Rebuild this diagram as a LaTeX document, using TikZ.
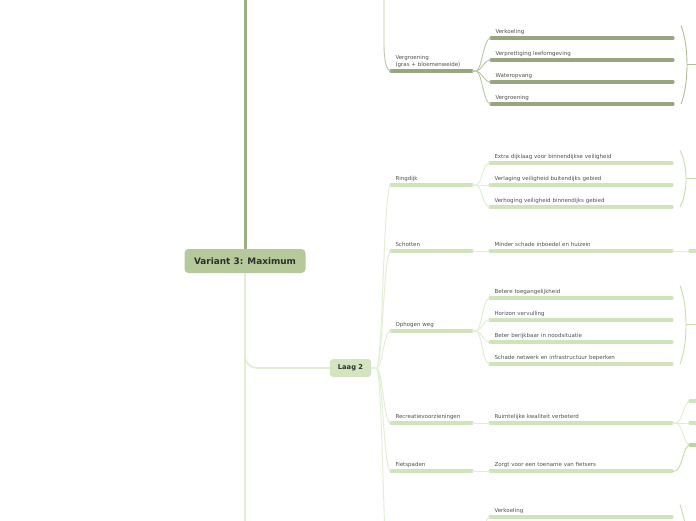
\documentclass[tikz,border=0pt]{standalone}
\usepackage{fontspec}
\setmainfont{DejaVu Sans}
\usepackage{xcolor}
\usepackage{tikz}
\usetikzlibrary{positioning, calc}
\definecolor{mapink}{HTML}{2F2F2F}
\definecolor{mapgrey}{HTML}{505050}
\definecolor{mapsage}{HTML}{B5C99A}
\definecolor{mapmint}{HTML}{D4E4C0}
\definecolor{mapstem}{HTML}{9DAF80}
\definecolor{mapolive}{HTML}{98A67F}
\definecolor{mapolivesoft}{HTML}{BBC5A8}
\definecolor{mapolivebrace}{HTML}{AFBD94}
\definecolor{mapleaf}{HTML}{D0E3BA}
\definecolor{mapleafdeep}{HTML}{BCD4A0}
\definecolor{mapleafsoft}{HTML}{E3EED7}
\definecolor{mapleafbrace}{HTML}{C8DCAF}
\tikzset{
  rootbox/.style={fill=mapsage, rounded corners=4pt, text=mapink, inner sep=0pt,
                  font=\fontsize{8.9}{10}\selectfont\bfseries,
                  minimum width=121pt, minimum height=24pt},
  laagbox/.style={rootbox, fill=mapmint, rounded corners=3pt,
                  font=\fontsize{6.7}{8}\selectfont\bfseries,
                  minimum width=41pt, minimum height=18pt},
  uline/.style={draw=#1, line width=3.2pt, line cap=round},
  topic/.style={anchor=south west, align=left, text=mapgrey, outer sep=0pt,
                font=\fontsize{5.5}{6.6}\selectfont, inner xsep=4.5pt, inner ysep=3.5pt,
                text height=4.2pt, text depth=1.3pt},
  topictwo/.style={topic, text width=72pt,
                   append after command={(\tikzlastnode.south west) edge[uline=#1] (\tikzlastnode.south east)}},
  topictwo/.default=mapleaf,
  topicthree/.style={topic, text width=173pt,
                     append after command={(\tikzlastnode.south west) edge[uline=#1] (\tikzlastnode.south east)}},
  topicthree/.default=mapleaf,
  stem/.style={draw=mapstem, line width=3pt},
  stemleaf/.style={draw=mapleafsoft, line width=1.8pt},
  twig/.style={draw=mapleafsoft, line width=1pt},
  twigdeep/.style={draw=mapleafbrace, line width=1pt},
  twigolive/.style={draw=mapolivesoft, line width=0.9pt},
  brace/.style={draw=mapleafbrace, line width=0.9pt},
  braceolive/.style={draw=mapolivebrace, line width=0.9pt},
}
\begin{document}
\begin{tikzpicture}[x=1pt, y=-1pt, node distance=9.5pt]
  \useasboundingbox (0,0) rectangle (696,520);
  \clip (0,0) rectangle (696,520);
  % main nodes
  \node[rootbox] (variant) at (245,261) {Variant 3: Maximum};
  \node[laagbox] (laag) at (350.5,368) {Laag 2};
  % ends off the page
  \coordinate (rootup) at (245,-10);
  \coordinate (rootdown) at (245,540);
  \coordinate (upperfork) at (384,-10);
  \coordinate (laagnext) at (391,600);
  \coordinate (lowerparent) at (472,560);
  \coordinate (lowerbrace) at (690,570);
  \coordinate (schotnext) at (690,251);
  \coordinate (nextA) at (690,401);
  \coordinate (nextB) at (690,423);
  \coordinate (nextC) at (690,445);
  % topics of laag 2
  \node[topictwo=mapolive, text depth=] (vergroening) at (391,71) {Vergroening\\(gras + bloemenweide)};
  \node[topictwo] (ringdijk) at (391,185) {Ringdijk};
  \node[topictwo] (schotten) at (391,251) {Schotten};
  \node[topictwo] (ophogen) at (391,331) {Ophogen weg};
  \node[topictwo] (recreatie) at (391,423) {Recreatievoorzieningen};
  \node[topictwo] (fietspaden) at (391,471) {Fietspaden};
  % effects
  \node[topicthree=mapolive] (koeling) at (491,38) {Verkoeling};
  \node[topicthree=mapolive, below=of koeling] (prettig) {Verprettiging leefomgeving};
  \node[topicthree=mapolive, below=of prettig] (water) {Wateropvang};
  \node[topicthree=mapolive, below=of water] (groen) {Vergroening};
  \node[topicthree] (extra) at (490,163) {Extra dijklaag voor binnendijkse veiligheid};
  \node[topicthree, below=of extra] (verlaging) {Verlaging veiligheid buitendijks gebied};
  \node[topicthree, below=of verlaging] (verhoging) {Verhoging veiligheid binnendijks gebied};
  \node[topicthree] (minder) at (490,251) {Minder schade inboedel en huizein};
  \node[topicthree] (toegang) at (490,298) {Betere toegangelijkheid};
  \node[topicthree, below=of toegang] (horizon) {Horizon vervulling};
  \node[topicthree, below=of horizon] (nood) {Beter berijkbaar in noodsituatie};
  \node[topicthree, below=of nood] (netwerk) {Schade netwerk en infrastructuur beperken};
  \node[topicthree] (ruimte) at (490,423) {Ruimtelijke kwaliteit verbeterd};
  \node[topicthree] (toename) at (490,471) {Zorgt voor een toename van fietsers};
  \node[topicthree] (koelinglow) at (490,517) {Verkoeling};
  % stems
  \draw[stem] (variant.north) -- (rootup);
  \draw[stemleaf] (variant.south) -- (rootdown);
  \draw[stemleaf, rounded corners=12pt] (variant.south) |- (laag.west);
  % laag 2 to topics
  \draw[twigolive] (upperfork) -- ++(0,55) .. controls +(0,13) and +(-5,0) .. (vergroening.south west);
  \draw[twig] (laag.east) -- ++(5,0) .. controls +(7,0) and +(-8,0) .. (ringdijk.south west);
  \draw[twig] (laag.east) -- ++(5,0) .. controls +(7,0) and +(-8,0) .. (schotten.south west);
  \draw[twig] (laag.east) -- ++(5,0) .. controls +(7,0) and +(-8,0) .. (ophogen.south west);
  \draw[twig] (laag.east) -- ++(5,0) .. controls +(7,0) and +(-8,0) .. (recreatie.south west);
  \draw[twig] (laag.east) -- ++(5,0) .. controls +(7,0) and +(-8,0) .. (fietspaden.south west);
  \draw[twig] (laag.east) -- ++(5,0) .. controls +(7,0) and +(-8,0) .. (laagnext);
  % topics to effects
  \draw[twigolive] (vergroening.south east) -- ++(4,0) .. controls +(6,0) and +(-8,0) .. (koeling.south west);
  \draw[twigolive] (vergroening.south east) -- ++(4,0) .. controls +(6,0) and +(-8,0) .. (prettig.south west);
  \draw[twigolive] (vergroening.south east) -- ++(4,0) .. controls +(6,0) and +(-8,0) .. (water.south west);
  \draw[twigolive] (vergroening.south east) -- ++(4,0) .. controls +(6,0) and +(-8,0) .. (groen.south west);
  \draw[twig] (ringdijk.south east) -- ++(4,0) .. controls +(6,0) and +(-8,0) .. (extra.south west);
  \draw[twig] (ringdijk.south east) -- (verlaging.south west);
  \draw[twig] (ringdijk.south east) -- ++(4,0) .. controls +(6,0) and +(-8,0) .. (verhoging.south west);
  \draw[twig] (schotten.south east) -- (minder.south west);
  \draw[twig] (ophogen.south east) -- ++(4,0) .. controls +(6,0) and +(-8,0) .. (toegang.south west);
  \draw[twig] (ophogen.south east) -- ++(4,0) .. controls +(6,0) and +(-8,0) .. (horizon.south west);
  \draw[twig] (ophogen.south east) -- ++(4,0) .. controls +(6,0) and +(-8,0) .. (nood.south west);
  \draw[twig] (ophogen.south east) -- ++(4,0) .. controls +(6,0) and +(-8,0) .. (netwerk.south west);
  \draw[twig] (recreatie.south east) -- (ruimte.south west);
  \draw[twig] (fietspaden.south east) -- (toename.south west);
  \draw[twig] (lowerparent) -- ++(4,0) .. controls +(6,0) and +(-8,0) .. (koelinglow.south west);
  % links to the right
  \draw[twig] (minder.south east) -- (schotnext);
  \draw[uline=mapleaf] (schotnext) -- ++(12,0);
  \draw[twig] (ruimte.south east) -- ++(4,0) .. controls +(6,0) and +(-6,0) .. (nextA);
  \draw[twig] (ruimte.south east) -- (nextB);
  \draw[twig] (ruimte.south east) -- ++(4,0) .. controls +(6,0) and +(-6,0) .. (nextC);
  \draw[twigdeep] (toename.south east) -- ++(3,0) .. controls +(7,0) and +(-7,0) .. (nextC);
  \draw[uline=mapleaf] (nextA) -- ++(12,0);
  \draw[uline=mapleaf] (nextB) -- ++(12,0);
  \draw[uline=mapleafdeep] (nextC) -- ++(12,0);
  % summary braces
  \draw[braceolive] ($(koeling.north east)+(8,0)$) .. controls +(8,20) and +(8,-20) .. ($(groen.south east)+(8,0)$);
  \draw[braceolive] ($(koeling.north east)!0.5!(groen.south east)+(14,0)$) -- ++(10,0);
  \draw[brace] ($(extra.north east)+(8,0)$) .. controls +(8,15) and +(8,-15) .. ($(verhoging.south east)+(8,0)$);
  \draw[brace] ($(extra.north east)!0.5!(verhoging.south east)+(14,0)$) -- ++(10,0);
  \draw[brace] ($(toegang.north east)+(8,0)$) .. controls +(8,20) and +(8,-20) .. ($(netwerk.south east)+(8,0)$);
  \draw[brace] ($(toegang.north east)!0.5!(netwerk.south east)+(14,0)$) -- ++(10,0);
  \draw[brace] ($(koelinglow.north east)+(8,0)$) .. controls +(6,20) and +(0,-30) .. (lowerbrace);
\end{tikzpicture}
\end{document}
